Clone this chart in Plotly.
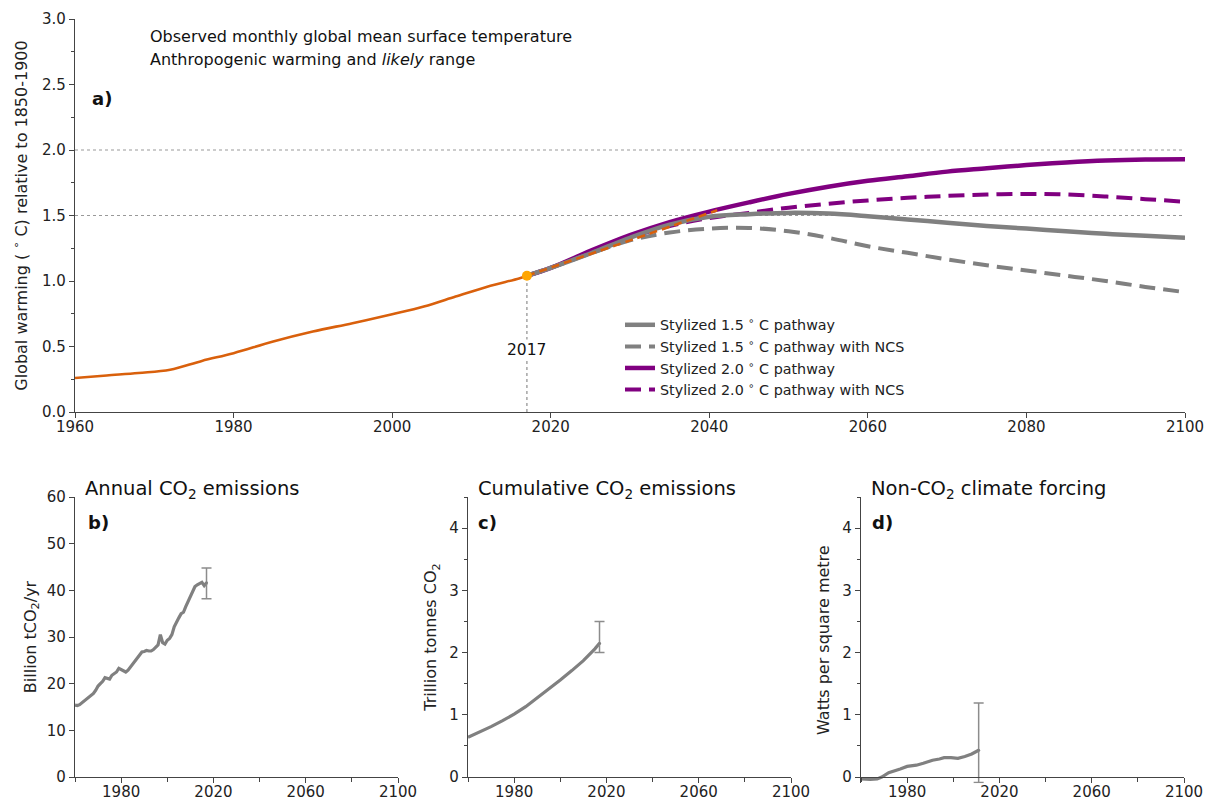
import plotly.graph_objects as go

# ---------------- data ----------------
obs_years = [1960, 1964, 1968, 1972, 1976, 1980, 1985, 1990, 1995, 2000, 2004, 2008, 2012, 2016, 2017]
obs_temp = [0.259, 0.279, 0.298, 0.322, 0.39, 0.449, 0.538, 0.614, 0.678, 0.746, 0.805, 0.881, 0.957, 1.02, 1.04]

proj_years = [2017, 2030, 2041]
proj_temp = [1.04, 1.31, 1.54]

path_years = [2017, 2020, 2025, 2030, 2035, 2040, 2045, 2050, 2055, 2060, 2065, 2070, 2075, 2080, 2085, 2090, 2095, 2100]
p15 = [1.04, 1.10, 1.21, 1.33, 1.43, 1.49, 1.51, 1.52, 1.515, 1.495, 1.47, 1.445, 1.42, 1.40, 1.38, 1.36, 1.345, 1.33]
p15_ncs = [1.04, 1.10, 1.21, 1.31, 1.37, 1.40, 1.405, 1.38, 1.33, 1.265, 1.215, 1.165, 1.12, 1.08, 1.04, 1.00, 0.955, 0.915]
p20 = [1.04, 1.10, 1.23, 1.35, 1.45, 1.53, 1.60, 1.665, 1.72, 1.765, 1.80, 1.835, 1.86, 1.885, 1.905, 1.92, 1.928, 1.93]
p20_ncs = [1.04, 1.10, 1.22, 1.33, 1.42, 1.48, 1.52, 1.56, 1.59, 1.615, 1.635, 1.65, 1.66, 1.665, 1.66, 1.645, 1.625, 1.605]

ref_levels = [1.5, 2.0]
mark_year = 2017
mark_temp = 1.04

em_years = list(range(1960, 2018))
em_vals = [15.4, 15.3, 15.5, 15.9, 16.3, 16.6, 17.0, 17.3, 17.9, 18.6,
           19.5, 20.0, 20.5, 21.3, 21.2, 21.0, 21.8, 22.2, 22.5, 23.3,
           23.0, 22.6, 22.5, 22.9, 23.6, 24.2, 24.8, 25.4, 26.2, 26.8,
           26.9, 27.1, 27.0, 27.0, 27.3, 27.8, 28.3, 30.5, 28.8, 28.5,
           29.3, 29.7, 30.5, 32.2, 33.3, 34.1, 35.0, 35.3, 36.5, 37.6,
           38.9, 40.1, 40.8, 41.2, 41.4, 41.7, 41.0, 41.6]
em_err = dict(year=2017, val=41.6, low=38.2, high=44.8)

cum_years = [1960, 1965, 1970, 1975, 1980, 1985, 1990, 1995, 2000, 2005, 2010, 2015, 2017]
cum_vals = [0.64, 0.72, 0.81, 0.905, 1.01, 1.13, 1.27, 1.41, 1.56, 1.71, 1.87, 2.06, 2.15]
cum_err = dict(year=2017, val=2.15, low=2.0, high=2.5)

nc_years = [1960, 1962, 1964, 1967, 1969, 1972, 1975, 1977, 1980, 1984, 1987, 1991, 1994, 1996, 1999, 2002, 2005, 2008, 2011]
nc_vals = [-0.03, -0.04, -0.04, -0.03, 0.00, 0.07, 0.10, 0.13, 0.17, 0.19, 0.22, 0.27, 0.29, 0.31, 0.31, 0.30, 0.33, 0.37, 0.43]
nc_err = dict(year=2011, val=0.43, low=-0.09, high=1.19)

# ---------------- styles ----------------
FONT = "DejaVu Sans"
GRAY = "#808080"
PURPLE = "#800080"
ORANGE = "#d9600c"
AX = "#444444"
W, H = 1214, 803

def fx(px):
    return px / W

def fy(py):
    return 1 - py / H

fig = go.Figure()

# reference lines
for lv in ref_levels:
    fig.add_trace(go.Scatter(x=[1960, 2100], y=[lv, lv], mode="lines",
                             line=dict(color="#999999", width=1, dash="3px,3px"),
                             showlegend=False, hoverinfo="skip", xaxis="x", yaxis="y"))
fig.add_trace(go.Scatter(x=[mark_year, mark_year], y=[0, mark_temp], mode="lines",
                         line=dict(color="#777777", width=1, dash="3px,3px"),
                         showlegend=False, hoverinfo="skip", xaxis="x", yaxis="y"))

# pathways
fig.add_trace(go.Scatter(x=path_years, y=p20, mode="lines", name="Stylized 2.0 <sup>∘</sup> C pathway",
                         line=dict(color=PURPLE, width=4.5, shape="spline"), legendrank=3,
                         xaxis="x", yaxis="y"))
fig.add_trace(go.Scatter(x=path_years, y=p20_ncs, mode="lines", name="Stylized 2.0 <sup>∘</sup> C pathway with NCS",
                         line=dict(color=PURPLE, width=4, dash="16px,8px", shape="spline"), legendrank=4,
                         xaxis="x", yaxis="y"))
fig.add_trace(go.Scatter(x=path_years, y=p15, mode="lines", name="Stylized 1.5 <sup>∘</sup> C pathway",
                         line=dict(color=GRAY, width=4.5, shape="spline"), legendrank=1,
                         xaxis="x", yaxis="y"))
fig.add_trace(go.Scatter(x=path_years, y=p15_ncs, mode="lines", name="Stylized 1.5 <sup>∘</sup> C pathway with NCS",
                         line=dict(color=GRAY, width=4, dash="16px,8px", shape="spline"), legendrank=2,
                         xaxis="x", yaxis="y"))

# observed / anthropogenic warming
fig.add_trace(go.Scatter(x=obs_years, y=obs_temp, mode="lines",
                         line=dict(color=ORANGE, width=2.6, shape="spline"),
                         showlegend=False, xaxis="x", yaxis="y"))
fig.add_trace(go.Scatter(x=proj_years, y=proj_temp, mode="lines",
                         line=dict(color=ORANGE, width=2.6, dash="8px,5px", shape="spline"),
                         showlegend=False, xaxis="x", yaxis="y"))
fig.add_trace(go.Scatter(x=[mark_year], y=[mark_temp], mode="markers",
                         marker=dict(color="#FFA500", size=10),
                         showlegend=False, xaxis="x", yaxis="y"))

# bottom panels
def add_panel(xs, ys, err, xa, ya):
    fig.add_trace(go.Scatter(x=xs, y=ys, mode="lines", line=dict(color=GRAY, width=3.2),
                             showlegend=False, xaxis=xa, yaxis=ya))
    fig.add_trace(go.Scatter(x=[err["year"]], y=[err["val"]], mode="markers",
                             marker=dict(color=GRAY, size=3),
                             error_y=dict(type="data", symmetric=False,
                                          array=[err["high"] - err["val"]],
                                          arrayminus=[err["val"] - err["low"]],
                                          color="#8c8c8c", thickness=1.5, width=5),
                             showlegend=False, xaxis=xa, yaxis=ya))

add_panel(em_years, em_vals, em_err, "x2", "y2")
add_panel(cum_years, cum_vals, cum_err, "x3", "y3")
add_panel(nc_years, nc_vals, nc_err, "x4", "y4")

TICKF = dict(family=FONT, size=15, color="#222")
TITLEF = dict(family=FONT, size=16, color="#222")

axis_common = dict(showline=True, linecolor=AX, linewidth=1.3, ticks="outside", ticklen=5,
                   tickcolor=AX, tickwidth=1.2, showgrid=False, zeroline=False, automargin=False,
                   tickfont=TICKF)

xaxis_common = dict(axis_common, ticklabelstandoff=-4)

bottom_x = dict(xaxis_common, range=[1960, 2100], tickmode="linear", tick0=1980, dtick=40,
                minor=dict(ticks="outside", tick0=1960, dtick=20, ticklen=4, tickcolor=AX))

BOT, TOP = 777, 497
unit4 = (BOT - TOP) / 4.5
nc_min = -0.1

layout = dict(
    width=W, height=H, margin=dict(l=0, r=0, t=0, b=0),
    paper_bgcolor="white", plot_bgcolor="white",
    font=dict(family=FONT, size=14, color="#222"),
    xaxis=dict(xaxis_common, domain=[fx(75), fx(1185)], range=[1960, 2100], dtick=20, anchor="y"),
    yaxis=dict(axis_common, domain=[fy(412), fy(19)], range=[0, 3.0], dtick=0.5, tickformat=".1f",
               minor=dict(ticks="outside", dtick=0.25, ticklen=3, tickcolor=AX), anchor="x",
               title=dict(text="Global warming ( <sup>∘</sup> C) relative to 1850-1900",
                          font=TITLEF, standoff=10)),
    xaxis2=dict(bottom_x, domain=[fx(75), fx(398)], anchor="y2"),
    yaxis2=dict(axis_common, domain=[fy(BOT), fy(TOP)], range=[0, 60], dtick=10, anchor="x2",
                title=dict(text="Billion tCO<sub>2</sub>/yr", font=TITLEF, standoff=6)),
    xaxis3=dict(bottom_x, domain=[fx(468), fx(791)], anchor="y3"),
    yaxis3=dict(axis_common, domain=[fy(BOT), fy(TOP)], range=[0, 4.5], tickvals=[0, 1, 2, 3, 4],
                minor=dict(ticks="outside", dtick=0.5, ticklen=3, tickcolor=AX), anchor="x3",
                title=dict(text="Trillion tonnes CO<sub>2</sub>", font=TITLEF, standoff=8)),
    xaxis4=dict(bottom_x, domain=[fx(861), fx(1184)], anchor="free", position=fy(BOT)),
    yaxis4=dict(axis_common, domain=[fy(BOT - nc_min * unit4), fy(TOP)], range=[nc_min, 4.5],
                tickvals=[0, 1, 2, 3, 4],
                minor=dict(ticks="outside", tickvals=[0.5, 1.5, 2.5, 3.5, 4.5], ticklen=3, tickcolor=AX),
                anchor="x4",
                title=dict(text="Watts per square metre", font=TITLEF, standoff=8)),
    legend=dict(x=fx(620), y=fy(309), xanchor="left", yanchor="top", bgcolor="rgba(0,0,0,0)",
                font=dict(family=FONT, size=14.3, color="#222"), tracegroupgap=0, itemwidth=30),
)
fig.update_layout(**layout)

ann = [
    dict(text="Observed monthly global mean surface temperature", x=fx(148), y=fy(37), size=16),
    dict(text="Anthropogenic warming and <i>likely</i> range", x=fx(148), y=fy(60), size=16),
    dict(text="<b>a)</b>", x=fx(90), y=fy(98), size=18),
    dict(text="Annual CO<sub>2</sub> emissions", x=fx(83), y=fy(489), size=19.5),
    dict(text="Cumulative CO<sub>2</sub> emissions", x=fx(476), y=fy(489), size=19.5),
    dict(text="Non-CO<sub>2</sub> climate forcing", x=fx(869), y=fy(489), size=19.5),
    dict(text="<b>b)</b>", x=fx(86), y=fy(522), size=18),
    dict(text="<b>c)</b>", x=fx(476), y=fy(522), size=18),
    dict(text="<b>d)</b>", x=fx(870), y=fy(522), size=18),
]
for a in ann:
    fig.add_annotation(text=a["text"], x=a["x"], y=a["y"], xref="paper", yref="paper",
                       xanchor="left", yanchor="middle", showarrow=False,
                       font=dict(family=FONT, size=a["size"], color="#111"))

fig.add_annotation(text=str(mark_year), x=mark_year, y=0.47, xref="x", yref="y",
                   showarrow=False, font=dict(family=FONT, size=15.5, color="#111"),
                   bgcolor="white")

fig.write_html("out.html", config={"displayModeBar": False},
               post_script="document.body.style.margin='0';document.body.style.overflow='hidden';")
